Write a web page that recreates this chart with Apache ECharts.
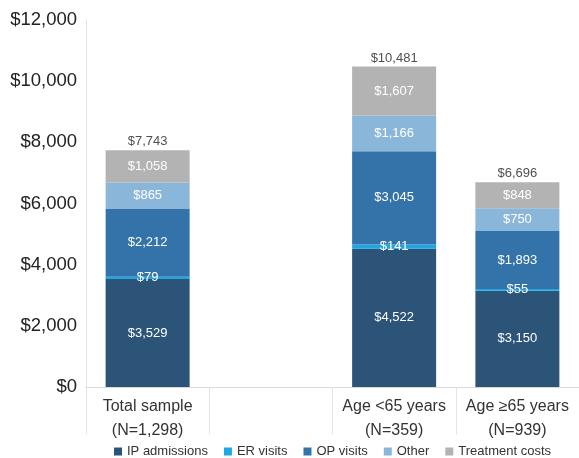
<!DOCTYPE html>
<html><head><meta charset="utf-8">
<script src="https://cdn.jsdelivr.net/npm/echarts@6/dist/echarts.min.js"></script>
<style>html,body{margin:0;padding:0;background:#fff}#c{width:579px;height:458px}</style>
</head><body><div id="c"></div>
<script>
const categories = ['Total sample\n(N=1,298)', '', 'Age <65 years\n(N=359)', 'Age \u226565 years\n(N=939)'];
const ipAdmissions = [3529, null, 4522, 3150];
const erVisits = [79, null, 141, 55];
const opVisits = [2212, null, 3045, 1893];
const other = [865, null, 1166, 750];
const treatmentCosts = [1058, null, 1607, 848];
const totals = [7743, null, 10481, 6696];
const yTicks = [0, 2000, 4000, 6000, 8000, 10000, 12000];

const FONT = '"Liberation Sans", Arial, Helvetica, sans-serif';
const fmt = v => '$' + Number(v).toLocaleString('en-US');
const names = ['IP admissions', 'ER visits', 'OP visits', 'Other', 'Treatment costs'];
const colors = ['#2c5478', '#1ea7e1', '#3473aa', '#8ab6da', '#b3b3b3'];
const datasets = [ipAdmissions, erVisits, opVisits, other, treatmentCosts];

const series = datasets.map((d, i) => ({
  name: names[i], type: 'bar', stack: 'a', data: d, barWidth: 84,
  itemStyle: { color: colors[i] },
  label: { show: true, position: 'inside', color: '#fff', fontSize: 13, fontFamily: FONT,
    formatter: p => fmt(p.value) }
}));
series.push({
  name: 'Total', type: 'scatter', data: totals, symbolSize: 0, silent: true,
  label: { show: true, position: 'top', distance: 2, color: '#222', fontSize: 13, fontFamily: FONT,
    formatter: p => fmt(p.value) }
});

const chart = echarts.init(document.getElementById('c'), null, { renderer: 'canvas' });
chart.setOption({
  animation: false,
  color: colors,
  grid: { left: 86, right: 0, top: 20, bottom: 71, containLabel: false },
  legend: {
    data: names, left: 114, top: 445, padding: 0, itemWidth: 8, itemHeight: 8, itemGap: 16,
    icon: 'rect', textStyle: { fontSize: 13, color: '#333', fontFamily: FONT }
  },
  xAxis: {
    type: 'category', data: categories,
    axisLine: { lineStyle: { color: '#d9d9d9' } },
    axisTick: { show: true, length: 47, interval: 0, lineStyle: { color: '#e3e3e3' } },
    axisLabel: { interval: 0, fontSize: 16, lineHeight: 24, color: '#333', margin: 8, fontFamily: FONT }
  },
  yAxis: {
    type: 'value', min: yTicks[0], max: yTicks[yTicks.length - 1], interval: 2000,
    axisLine: { show: true, lineStyle: { color: '#e3e3e3' } },
    axisTick: { show: false }, splitLine: { show: false },
    axisLabel: { fontSize: 18.5, color: '#222', margin: 9, fontFamily: FONT, formatter: v => fmt(v) }
  },
  series
});
</script></body></html>
